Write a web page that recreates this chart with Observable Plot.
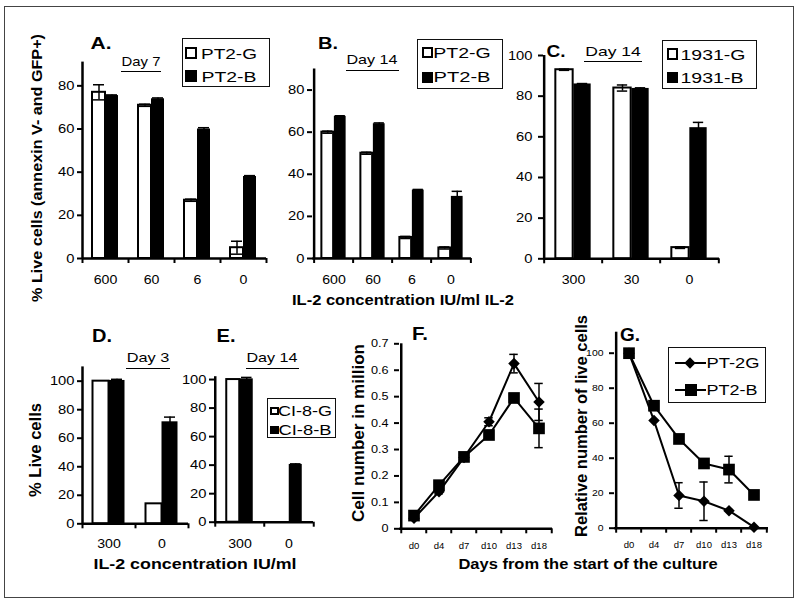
<!DOCTYPE html>
<html><head><meta charset="utf-8">
<script src="https://cdn.jsdelivr.net/npm/d3@7"></script>
<script src="https://cdn.jsdelivr.net/npm/@observablehq/plot@0.6"></script>
<style>
body{margin:0;background:#fff;}
#fig{position:relative;width:800px;height:603px;background:#fff;overflow:hidden;font-family:"Liberation Sans",Arial,sans-serif;color:#000;}
</style></head>
<body><div id="fig"></div>
<script>
// ---------------- DATA ----------------
const concAB = ["600", "60", "6", "0"];
const seriesPT2 = ["PT2-G", "PT2-B"];
const pt2gA = [77, 71, 27, 5];
const pt2gA_err = [3.5, 0.5, 0.5, 3];
const pt2bA = [75.5, 74, 60, 38];
const pt2bA_err = [0.3, 0.4, 0.6, 0.4];

const pt2gB = [60, 50, 10, 5];
const pt2gB_err = [0.5, 0.5, 0.5, 0.5];
const pt2bB = [67.5, 64, 32.5, 29.5];
const pt2bB_err = [0.3, 0.4, 0.3, 2.4];

const concC = ["300", "30", "0"];
const series1931 = ["1931-G", "1931-B"];
const g1931 = [93, 84, 5.5];
const g1931_err = [0.3, 1.5, 0.4];
const b1931 = [86, 83.8, 64.5];
const b1931_err = [0.2, 0.3, 2.6];

const concDE = ["300", "0"];
const seriesCI8 = ["CI-8-G", "CI-8-B"];
const ci8gD = [100, 14];
const ci8gD_err = [0, 0];
const ci8bD = [100.5, 71.5];
const ci8bD_err = [0.8, 3.3];
const ci8gE = [100, 0];
const ci8gE_err = [0, 0];
const ci8bE = [100.5, 40.5];
const ci8bE_err = [1, 0.4];

const days = ["d0", "d4", "d7", "d10", "d13", "d18"];
const seriesFG = ["PT-2G", "PT2-B"];
const cellsG = [0.04, 0.14, 0.27, 0.405, 0.625, 0.48];
const cellsG_err = [0.005, 0.008, 0.008, 0.015, 0.035, 0.07];
const cellsB = [0.05, 0.165, 0.272, 0.355, 0.495, 0.38];
const cellsB_err = [0.005, 0.008, 0.008, 0.008, 0.008, 0.073];
const relG = [100, 61.5, 18.7, 15.4, 10, 0.6];
const relG_err = [0, 0, 7.3, 11, 0, 0];
const relB = [100, 70, 51, 37, 33.5, 19];
const relB_err = [0, 0, 0, 0, 7.6, 0];

const ticks80 = [0, 20, 40, 60, 80];
const ticks100 = [0, 20, 40, 60, 80, 100];
const ticksCells = [0, 0.1, 0.2, 0.3, 0.4, 0.5, 0.6, 0.7];

const panelLetters = ["A.", "B.", "C.", "D.", "E.", "F.", "G."];
const dayLabels = ["Day 7", "Day 14", "Day 14", "Day 3", "Day 14"];
const yTitleTop = "% Live cells (annexin V- and GFP+)";
const yTitleD = "% Live cells";
const yTitleF = "Cell number in million";
const yTitleG = "Relative number of live cells";
const xTitleTop = "IL-2 concentration IU/ml IL-2";
const xTitleDE = "IL-2 concentration IU/ml";
const xTitleFG = "Days from the start of the culture";

// ---------------- HELPERS ----------------
const FONT = '"Liberation Sans", Arial, sans-serif';
const fig = document.getElementById("fig");
const W = 800, H = 603;

function stretch(svg, sel, s) {
  if (s === 1) return;
  svg.querySelectorAll(sel).forEach(t => {
    const tr = t.getAttribute("transform") || "";
    t.setAttribute("transform", `${tr} scale(${s},1)`);
  });
}
function mount(svg, sx, sy) {
  stretch(svg, 'g[aria-label="x-axis tick label"] text', sx);
  stretch(svg, 'g[aria-label="y-axis tick label"] text', sy);
  fig.appendChild(svg);
}
const baseStyle = {position: "absolute", left: "0px", top: "0px", background: "transparent",
  overflow: "visible", fontFamily: FONT, color: "#000"};

function barPanel(o) {
  const {cats, g, gErr, b, bErr, x0, x1, yTop, y0, top, ticks, pair, fs, xpad, ypad, st} = o;
  const n = cats.length, bw = (x1 - x0) / n, half = bw / 2, side = (bw - pair) / 2;
  const rows = (vals, errs) => cats.map((c, i) => ({c, v: vals[i], e: errs[i]}));
  const G = rows(g, gErr), B = rows(b, bErr);
  const eG = G.filter(d => d.e > 0), eB = B.filter(d => d.e > 0);
  const barW = pair / 2, capIn = Math.max(0, (barW - Math.min(barW, 12)) / 2 + 0.5);
  const errMarks = (E, dx, inL, inR) => [
    Plot.ruleX(E, {x: "c", y1: d => d.v - d.e, y2: d => d.v + d.e, dx, stroke: "#000", strokeWidth: 1.5}),
    Plot.tickY(E, {x: "c", y: d => d.v + d.e, insetLeft: inL, insetRight: inR, stroke: "#000", strokeWidth: 1.5}),
    Plot.tickY(E, {x: "c", y: d => d.v - d.e, insetLeft: inL, insetRight: inR, stroke: "#000", strokeWidth: 1.5})
  ];
  const svg = Plot.plot({
    width: W, height: H,
    marginLeft: x0, marginRight: W - x1, marginTop: yTop, marginBottom: H - y0,
    style: baseStyle,
    x: {type: "band", domain: cats, padding: 0},
    y: {domain: [0, top]},
    marks: [
      Plot.barY(G, {x: "c", y: "v", fill: "#fff", stroke: "#000", strokeWidth: 2, insetLeft: side, insetRight: half}),
      Plot.barY(B, {x: "c", y: "v", fill: "#000", insetLeft: half, insetRight: side}),
      ...errMarks(eG, -pair / 4, side + capIn, half + capIn),
      ...errMarks(eB, pair / 4, half + capIn, side + capIn),
      Plot.ruleY([0], {stroke: "#000", strokeWidth: 2.5}),
      Plot.ruleX([cats[0]], {dx: -half, stroke: "#000", strokeWidth: 2.5}),
      Plot.ruleX(cats, {dx: -half, y1: 0, y2: 0, insetBottom: -5, stroke: "#000", strokeWidth: 2}),
      Plot.ruleX([cats[n - 1]], {dx: half, y1: 0, y2: 0, insetBottom: -5, stroke: "#000", strokeWidth: 2}),
      Plot.axisY({ticks, tickSize: 5, tickPadding: ypad, fontSize: fs + 0.5, strokeWidth: 2, label: null}),
      Plot.axisX({tickSize: 0, tickPadding: xpad, fontSize: fs, label: null})
    ]
  });
  mount(svg, st, st);
}

function linePanel(o) {
  const {cats, s1, e1, s2, e2, x0, x1, yTop, y0, top, ticks, fs, st, xfs, xpad, ypad, fmt} = o;
  const n = cats.length, bw = (x1 - x0) / n, half = bw / 2;
  const rows = (vals, errs, k) => cats.map((c, i) => ({c, v: vals[i], e: errs[i], k}));
  const A = rows(s1, e1, seriesFG[0]), B = rows(s2, e2, seriesFG[1]);
  const all = A.concat(B), errs = all.filter(d => d.e > 0);
  const capIn = (bw - 9) / 2;
  const svg = Plot.plot({
    width: W, height: H,
    marginLeft: x0, marginRight: W - x1, marginTop: yTop, marginBottom: H - y0,
    style: baseStyle,
    x: {type: "band", domain: cats, padding: 0},
    y: {domain: [0, top]},
    marks: [
      Plot.ruleX(errs, {x: "c", y1: d => d.v - d.e, y2: d => d.v + d.e, stroke: "#000", strokeWidth: 1.5}),
      Plot.tickY(errs, {x: "c", y: d => d.v + d.e, insetLeft: capIn, insetRight: capIn, stroke: "#000", strokeWidth: 1.5}),
      Plot.tickY(errs, {x: "c", y: d => d.v - d.e, insetLeft: capIn, insetRight: capIn, stroke: "#000", strokeWidth: 1.5}),
      Plot.line(all, {x: "c", y: "v", z: "k", stroke: "#000", strokeWidth: 2}),
      Plot.dot(A, {x: "c", y: "v", symbol: "diamond2", r: 5.2, fill: "#000"}),
      Plot.dot(B, {x: "c", y: "v", symbol: "square", r: 6.6, fill: "#000"}),
      Plot.ruleY([0], {stroke: "#000", strokeWidth: 2.5}),
      Plot.ruleX([cats[0]], {dx: -half, stroke: "#000", strokeWidth: 2.5}),
      Plot.ruleX(cats, {dx: -half, y1: 0, y2: 0, insetBottom: -5, stroke: "#000", strokeWidth: 2}),
      Plot.ruleX([cats[n - 1]], {dx: half, y1: 0, y2: 0, insetBottom: -5, stroke: "#000", strokeWidth: 2}),
      Plot.axisY({ticks, tickSize: 5, tickPadding: ypad, fontSize: fs, strokeWidth: 2, label: null, tickFormat: fmt}),
      Plot.axisX({tickSize: 0, tickPadding: xpad, fontSize: xfs, label: null})
    ]
  });
  mount(svg, 1, st);
}

function addDiv(css) {
  const d = document.createElement("div");
  d.style.cssText = "position:absolute;box-sizing:border-box;" + css;
  fig.appendChild(d);
  return d;
}
function label(txt, cx, cy, w, size, bold, rot) {
  const el = document.createElement("div");
  el.textContent = txt;
  el.style.cssText = `position:absolute;left:${cx}px;top:${cy}px;white-space:nowrap;line-height:1;font-size:${size}px;font-weight:${bold ? "bold" : "normal"};color:#000;`;
  fig.appendChild(el);
  const nat = el.getBoundingClientRect().width;
  const s = w / nat;
  el.style.transform = `translate(-50%,-50%)${rot ? " rotate(-90deg)" : ""} scaleX(${s.toFixed(3)})`;
}
function dayLabel(txt, x1, x2, cy, uy) {
  label(txt, (x1 + x2) / 2, cy, x2 - x1, 13.5, false, false);
  addDiv(`left:${x1 - 1}px;top:${uy - 0.75}px;width:${x2 - x1 + 2}px;height:0;border-top:1.5px solid #000;`);
}
function legendSquares(box, items) {
  addDiv(`left:${box[0]}px;top:${box[1]}px;width:${box[2]}px;height:${box[3]}px;border:1.5px solid #111;background:#fff;`);
  items.forEach(it => {
    addDiv(`left:${it.mx}px;top:${it.my}px;width:${it.ms}px;height:${it.ms}px;border:2px solid #000;background:${it.fill};`);
    label(it.text, it.cx, it.cy, it.w, it.size, false, false);
  });
}

// ---------------- FRAME ----------------
addDiv("left:4px;top:6px;width:790px;height:592px;border:1.5px solid #444;");

// ---------------- PANELS ----------------
barPanel({cats: concAB, g: pt2gA, gErr: pt2gA_err, b: pt2bA, bErr: pt2bA_err,
  x0: 82, x1: 266, yTop: 61.6, y0: 258, top: 91, ticks: ticks80, pair: 26, fs: 12, xpad: 17, ypad: 3, st: 1.18});
barPanel({cats: concAB, g: pt2gB, gErr: pt2gB_err, b: pt2bB, bErr: pt2bB_err,
  x0: 312, x1: 471, yTop: 68.5, y0: 258, top: 90, ticks: ticks80, pair: 25, fs: 12, xpad: 17, ypad: 3, st: 1.18});
barPanel({cats: concC, g: g1931, gErr: g1931_err, b: b1931, bErr: b1931_err,
  x0: 543, x1: 719, yTop: 55, y0: 258.3, top: 100, ticks: ticks100, pair: 36, fs: 12, xpad: 17, ypad: 6, st: 1.18});
barPanel({cats: concDE, g: ci8gD, gErr: ci8gD_err, b: ci8bD, bErr: ci8bD_err,
  x0: 82, x1: 188, yTop: 366.4, y0: 523.3, top: 110, ticks: ticks100, pair: 32, fs: 12, xpad: 16, ypad: 3, st: 1.18});
barPanel({cats: concDE, g: ci8gE, gErr: ci8gE_err, b: ci8bE, bErr: ci8bE_err,
  x0: 214, x1: 313, yTop: 376.2, y0: 521.7, top: 102, ticks: ticks100, pair: 27, fs: 12, xpad: 17, ypad: 3, st: 1.18});
linePanel({cats: days, s1: cellsG, e1: cellsG_err, s2: cellsB, e2: cellsB_err,
  x0: 399, x1: 552, yTop: 343.3, y0: 528.3, top: 0.7, ticks: ticksCells, fs: 11, st: 1.15, xfs: 9.5, xpad: 13, ypad: 6,
  fmt: d => d === 0 ? "0" : d.toFixed(1)});
linePanel({cats: days, s1: relG, e1: relG_err, s2: relB, e2: relB_err,
  x0: 614, x1: 768, yTop: 331.7, y0: 527.7, top: 112, ticks: ticks100, fs: 9.5, st: 1.1, xfs: 9.5, xpad: 13, ypad: 6,
  fmt: d => String(d)});

// ---------------- TEXT / LEGENDS ----------------
label(panelLetters[0], 101, 43, 21, 17, true);
label(panelLetters[1], 328, 42.5, 20, 17, true);
label(panelLetters[2], 556, 51, 19, 17, true);
label(panelLetters[3], 101.7, 336, 20, 18, true);
label(panelLetters[4], 225.5, 336, 19, 18, true);
label(panelLetters[5], 419.7, 333.7, 16, 18, true);
label(panelLetters[6], 630.3, 335, 20, 18, true);

dayLabel(dayLabels[0], 121.7, 160.5, 62, 71.7);
dayLabel(dayLabels[1], 346.7, 397.7, 60, 71);
dayLabel(dayLabels[2], 585, 640.5, 52, 61.7);
dayLabel(dayLabels[3], 126.7, 169.3, 358, 369);
dayLabel(dayLabels[4], 246.7, 297.7, 357.5, 368.3);

legendSquares([182, 38, 88, 49], [
  {mx: 185, my: 47, ms: 12, fill: "#fff", text: seriesPT2[0], cx: 229, cy: 53, w: 56, size: 15},
  {mx: 185, my: 70, ms: 12, fill: "#000", text: seriesPT2[1], cx: 228.5, cy: 76, w: 55, size: 15}
]);
legendSquares([417.3, 39, 86, 50.3], [
  {mx: 422, my: 47, ms: 11, fill: "#fff", text: seriesPT2[0], cx: 462, cy: 52.5, w: 57.5, size: 15.5},
  {mx: 422, my: 71.5, ms: 11, fill: "#000", text: seriesPT2[1], cx: 461.7, cy: 77, w: 57, size: 15.5}
]);
legendSquares([662.3, 40, 94.4, 49], [
  {mx: 666.7, my: 48.3, ms: 11.5, fill: "#fff", text: series1931[0], cx: 712.5, cy: 54, w: 65, size: 15},
  {mx: 666.7, my: 71.5, ms: 11.5, fill: "#000", text: series1931[1], cx: 711.5, cy: 77, w: 63, size: 15}
]);
legendSquares([267.3, 398.3, 68.7, 40], [
  {mx: 270, my: 406.5, ms: 8.5, fill: "#fff", text: seriesCI8[0], cx: 305, cy: 410.5, w: 54, size: 14},
  {mx: 270, my: 425.5, ms: 8.5, fill: "#000", text: seriesCI8[1], cx: 304.5, cy: 430, w: 53, size: 14}
]);
// legend G (line + marker)
addDiv("left:668.3px;top:346.7px;width:97.4px;height:56px;border:1.5px solid #111;background:#fff;");
addDiv("left:675px;top:362.3px;width:31px;height:0;border-top:2px solid #000;");
addDiv("left:686px;top:359.3px;width:8px;height:8px;background:#000;transform:rotate(45deg);");
label(seriesFG[0], 732.7, 363.3, 53, 14, false);
addDiv("left:675px;top:389px;width:31px;height:0;border-top:2px solid #000;");
addDiv("left:685px;top:384.2px;width:11.6px;height:11.6px;background:#000;");
label(seriesFG[1], 731.7, 390, 51, 14, false);

// axis titles
label(yTitleTop, 36.5, 167.5, 268, 15.5, true, true);
label(yTitleD, 36.3, 450.3, 94, 16, true, true);
label(yTitleF, 358.8, 432.5, 178, 16, true, true);
label(yTitleG, 581.7, 426, 222, 16, true, true);
label(xTitleTop, 403, 298.7, 222, 15, true);
label(xTitleDE, 195, 564, 203, 15.5, true);
label(xTitleFG, 587.5, 564, 259, 15.5, true);
</script>
</body></html>
